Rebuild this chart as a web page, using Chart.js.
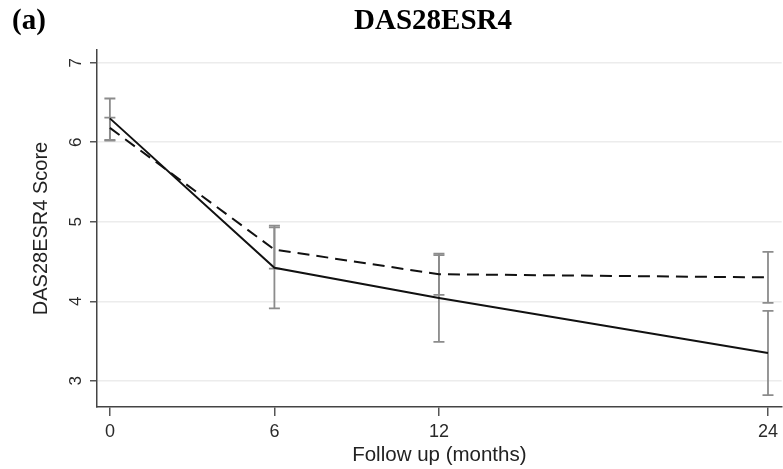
<!DOCTYPE html>
<html>
<head>
<meta charset="utf-8">
<script src="https://cdn.jsdelivr.net/npm/chart.js@4"></script>
<style>
  html, body { margin: 0; padding: 0; background: #fff; }
</style>
</head>
<body>
<canvas id="dasChart" width="783" height="469"></canvas>
<script>
// Datos
const meses = [0, 6, 12, 24];
const marcasY = [3, 4, 5, 6, 7];

// Serie continua
const mediaContinua = [6.30, 4.42, 4.04, 3.35];
const bajoContinua = [6.02, 3.91, 3.49, 2.82];
const altoContinua = [6.55, 4.95, 4.58, 3.88];

// Serie discontinua
const mediaDiscontinua = [6.18, 4.65, 4.34, 4.30];
const bajoDiscontinua = [6.03, 4.41, 4.08, 3.98];
const altoDiscontinua = [6.31, 4.93, 4.60, 4.62];

const fuenteSans = "'Liberation Sans', Arial, sans-serif";
const fuenteSerif = "'Liberation Serif', 'Times New Roman', serif";

// Barras de error (gris) detrás de las líneas
const barrasError = {
  id: "barrasError",
  beforeDatasetsDraw(chart) {
    const { ctx, scales: { x, y } } = chart;
    ctx.save();
    ctx.strokeStyle = "#8c8c8c";
    ctx.lineWidth = 1.8;
    [[bajoContinua, altoContinua], [bajoDiscontinua, altoDiscontinua]].forEach(([bajo, alto]) => {
      meses.forEach((m, i) => {
        const px = x.getPixelForValue(m);
        const y1 = y.getPixelForValue(bajo[i]);
        const y2 = y.getPixelForValue(alto[i]);
        ctx.beginPath();
        ctx.moveTo(px, y1);
        ctx.lineTo(px, y2);
        ctx.moveTo(px - 5.5, y1);
        ctx.lineTo(px + 5.5, y1);
        ctx.moveTo(px - 5.5, y2);
        ctx.lineTo(px + 5.5, y2);
        ctx.stroke();
      });
    });
    ctx.restore();
  },
};

// Títulos y etiquetas giradas del eje Y
const textos = {
  id: "textos",
  afterDraw(chart) {
    const { ctx, scales: { y } } = chart;
    ctx.save();
    ctx.fillStyle = "#000";
    ctx.font = "bold 29px " + fuenteSerif;
    ctx.textBaseline = "middle";
    ctx.textAlign = "left";
    ctx.fillText("(a)", 12, 22);
    ctx.textAlign = "center";
    ctx.fillText("DAS28ESR4", 433, 22);

    ctx.fillStyle = "#2a2a2a";
    ctx.font = "17px " + fuenteSans;
    y.ticks.forEach((t) => {
      const py = y.getPixelForValue(t.value);
      ctx.save();
      ctx.translate(76, py);
      ctx.rotate(-Math.PI / 2);
      ctx.textAlign = "center";
      ctx.textBaseline = "middle";
      ctx.fillText(String(t.value), 0, 0);
      ctx.restore();
    });
    ctx.restore();
  },
};

const ctxDas = document.getElementById("dasChart").getContext("2d");

new Chart(ctxDas, {
  type: "line",
  data: {
    datasets: [
      {
        label: "Continua",
        data: meses.map((m, i) => ({ x: m, y: mediaContinua[i] })),
        borderColor: "#111",
        borderWidth: 2,
        pointRadius: 0,
        tension: 0,
        fill: false,
      },
      {
        label: "Discontinua",
        data: meses.map((m, i) => ({ x: m, y: mediaDiscontinua[i] })),
        borderColor: "#111",
        borderWidth: 2,
        borderDash: [12, 7],
        pointRadius: 0,
        tension: 0,
        fill: false,
      },
    ],
  },
  options: {
    responsive: false,
    devicePixelRatio: 1,
    animation: false,
    layout: { padding: { top: 50, right: 0, left: 0, bottom: 0 } },
    plugins: {
      legend: { display: false },
      tooltip: { enabled: false },
      title: { display: false },
    },
    scales: {
      x: {
        type: "linear",
        min: -0.47,
        max: 24.5,
        afterBuildTicks: (scale) => {
          scale.ticks = meses.map((v) => ({ value: v }));
        },
        afterFit: (scale) => {
          scale.height = 62;
        },
        border: { color: "#444", width: 1.5 },
        grid: {
          drawOnChartArea: false,
          tickLength: 9,
          tickColor: "#555",
          lineWidth: 1.5,
        },
        ticks: {
          color: "#2a2a2a",
          font: { family: fuenteSans, size: 18 },
          padding: 5,
          maxRotation: 0,
        },
        title: {
          display: true,
          text: "Follow up (months)",
          color: "#222",
          font: { family: fuenteSans, size: 20.5 },
          padding: { top: 0, bottom: 1 },
        },
      },
      y: {
        min: 2.67,
        max: 7.16,
        afterBuildTicks: (scale) => {
          scale.ticks = marcasY.map((v) => ({ value: v }));
        },
        afterFit: (scale) => {
          scale.width = 97;
        },
        border: { color: "#444", width: 1.5 },
        grid: {
          color: "#ececec",
          lineWidth: 1.5,
          tickLength: 7,
          tickColor: "#555",
        },
        ticks: { display: false },
        title: {
          display: true,
          text: "DAS28ESR4 Score",
          color: "#222",
          font: { family: fuenteSans, size: 20 },
          padding: { top: 29, bottom: 0 },
        },
      },
    },
  },
  plugins: [barrasError, textos],
});
</script>
</body>
</html>
